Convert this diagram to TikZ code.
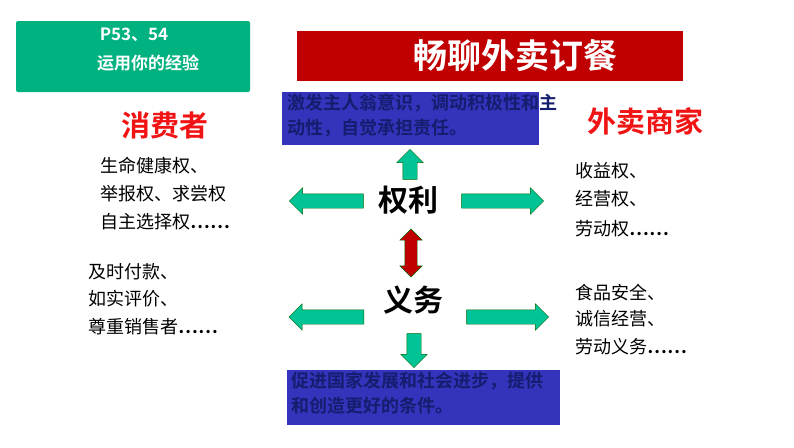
\documentclass[tikz,border=0pt]{standalone}
\usepackage{fontspec}
\setmainfont{Noto Sans CJK SC}[BoldFont={Noto Sans CJK SC Bold}]
\usetikzlibrary{shapes.arrows,positioning}
\definecolor{boxgreen}{RGB}{0,178,128}
\definecolor{arrowgreen}{RGB}{0,196,150}
\definecolor{titlered}{RGB}{192,0,0}
\definecolor{noteblue}{RGB}{51,51,187}
\definecolor{notetext}{RGB}{20,30,110}
\definecolor{labelred}{RGB}{240,20,20}
\tikzset{
  fat/.style={single arrow,draw=green!40!black,fill=arrowgreen,inner sep=7pt,single arrow head extend=6pt},
  twin/.style={double arrow,draw=green!40!black,fill=titlered,inner sep=6pt,double arrow head extend=5pt,rotate=90},
  item/.style={anchor=west,font=\fontsize{18}{20}\selectfont,inner sep=0pt},
  note/.style={anchor=north west,align=left,text=notetext,font=\bfseries\fontsize{18}{25}\selectfont,inner sep=0pt},
  key/.style={font=\bfseries\fontsize{30}{32}\selectfont}
}
\begin{document}
\begin{tikzpicture}[x=1pt,y=-1pt]
\useasboundingbox (0,0) rectangle (794,447);

% boxes
\fill[boxgreen,rounded corners=2pt] (16,21) rectangle (250,92);
\node[text=white,font=\bfseries\fontsize{17}{19}\selectfont] (page) at (134,35) {P53、54};
\node[text=white,font=\bfseries\fontsize{17}{19}\selectfont] (use) at (148,63) {运用你的经验};
\fill[titlered] (297,31) rectangle (683,81);
\node[text=white,font=\bfseries\fontsize{34}{36}\selectfont] (title) at (515,56) {畅聊外卖订餐};
\fill[noteblue] (282,92) rectangle (539,145);
\node[note] (note1) at (287,94) {激发主人翁意识，调动积极性和主\\动性，自觉承担责任。};
\fill[noteblue] (287,370) rectangle (560,425);
\node[note] (note2) at (291,372) {促进国家发展和社会进步，提供\\和创造更好的条件。};

% sides
\node[text=labelred,font=\bfseries\fontsize{29}{31}\selectfont] (consumer) at (165,125) {消费者};
\node[text=labelred,font=\bfseries\fontsize{29}{31}\selectfont] (seller) at (645,121) {外卖商家};

\node[item] (c1) at (100,166) {生命健康权、};
\node[item] (c2) at (100,194) {举报权、求尝权};
\node[item] (c3) at (100,222) {自主选择权\textbf{……}};
\node[item] (c4) at (88,272) {及时付款、};
\node[item] (c5) at (88,299) {如实评价、};
\node[item] (c6) at (88,327) {尊重销售者\textbf{……}};
\node[item] (s1) at (575,171) {收益权、};
\node[item] (s2) at (575,199) {经营权、};
\node[item] (s3) at (575,229) {劳动权\textbf{……}};
\node[item] (s4) at (575,293) {食品安全、};
\node[item] (s5) at (575,319) {诚信经营、};
\node[item] (s6) at (575,347) {劳动义务\textbf{……}};

% centre
\node[fat,minimum height=30pt,rotate=90] (up) at (410,168) {};
\node[key] (right) at (408,200) {权利};
\node[key] (duty) at (413,300) {义务};

\node[fat,minimum height=74pt,shape border rotate=180] (rl) at (330,201) {};
\node[fat,minimum height=82pt] (rr) at (499,201) {};
\node[twin,minimum height=48pt] (link) at (411,253) {};
\node[fat,minimum height=75pt,shape border rotate=180] (dl) at (330,317) {};
\node[fat,minimum height=82pt] (dr) at (504,317) {};
\node[fat,minimum height=34pt,rotate=-90] (down) at (414,347) {};
\end{tikzpicture}
\end{document}
